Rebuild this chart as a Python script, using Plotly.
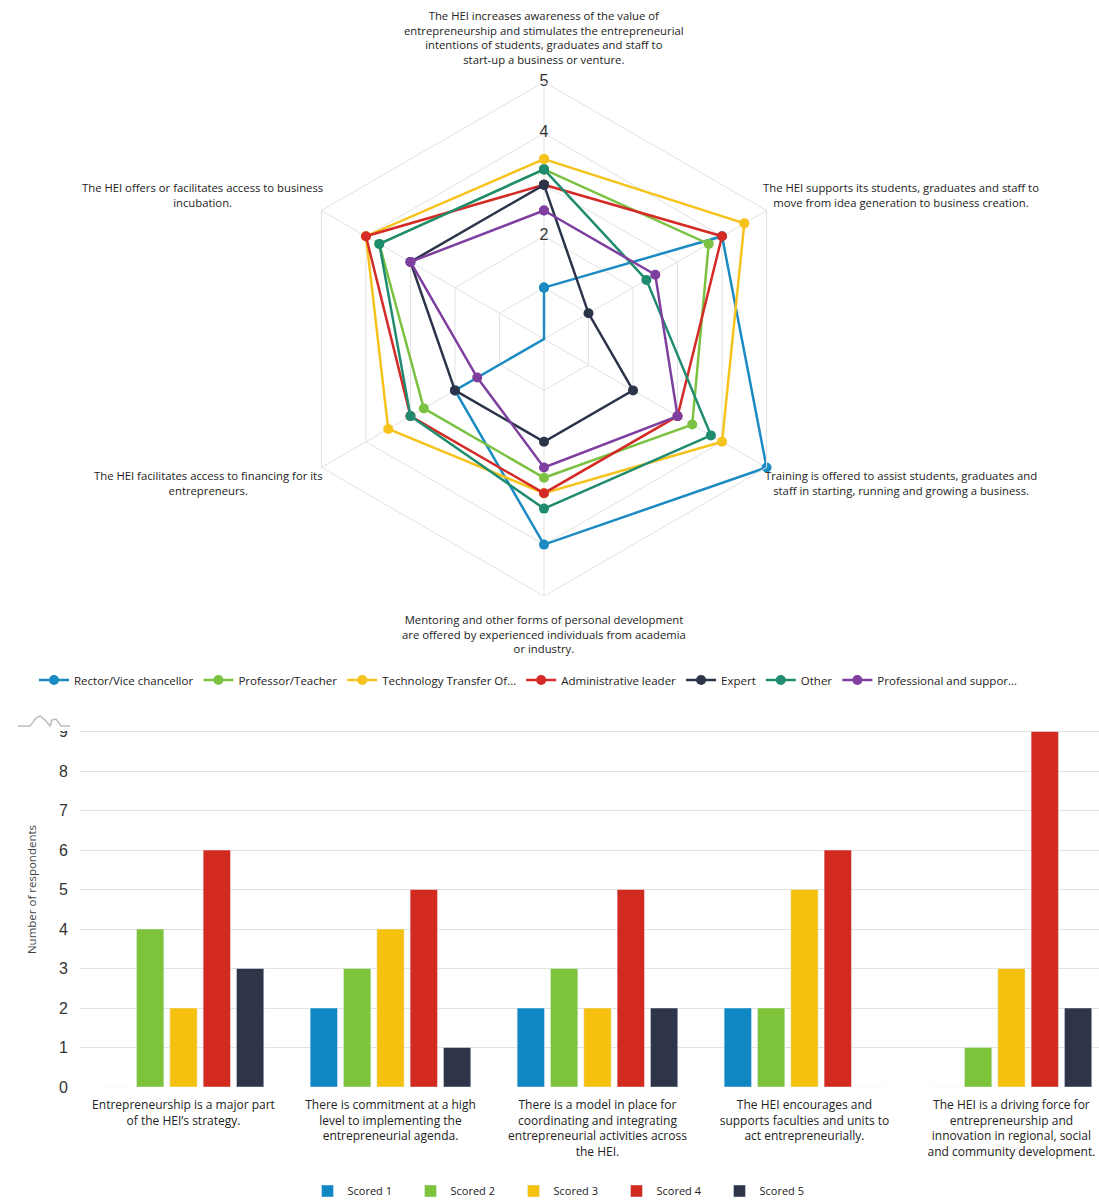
import plotly.graph_objects as go

# ---------------- Radar: self-assessment by respondent group ----------------
radar_axes = [
    "The HEI increases awareness of the value of<br>entrepreneurship and stimulates the entrepreneurial<br>intentions of students, graduates and staff to<br>start-up a business or venture.",
    "The HEI supports its students, graduates and staff to<br>move from idea generation to business creation.",
    "Training is offered to assist students, graduates and<br>staff in starting, running and growing a business.",
    "Mentoring and other forms of personal development<br>are offered by experienced individuals from academia<br>or industry.",
    "The HEI facilitates access to financing for its<br>entrepreneurs.",
    "The HEI offers or facilitates access to business<br>incubation.",
]

group_names = [
    "Rector/Vice chancellor",
    "Professor/Teacher",
    "Technology Transfer Of…",
    "Administrative leader",
    "Expert",
    "Other",
    "Professional and suppor…",
]
rector = [1, 4, 5, 4, 2, 0]
professor = [3.3, 3.7, 3.33, 2.7, 2.7, 3.7]
tech_transfer = [3.5, 4.5, 4, 3, 3.5, 4]
admin_leader = [3, 4, 3, 3, 3, 4]
expert = [3, 1, 2, 2, 2, 3]
other = [3.3, 2.3, 3.75, 3.3, 3, 3.7]
professional = [2.5, 2.5, 3, 2.5, 1.5, 3]
group_values = [rector, professor, tech_transfer, admin_leader, expert, other, professional]
group_colors = ["#1b8bc2", "#7cc242", "#f6c21c", "#d42b27", "#2c3449", "#1f8b6f", "#7f3f9f"]

radial_ticks = [1, 2, 3, 4, 5]
radial_labels = [2, 4, 5]   # the scale values printed on the first spoke

# ---------------- Bars: strategy and governance scores ----------------
bar_categories = [
    "Entrepreneurship is a major part<br>of the HEI’s strategy.",
    "There is commitment at a high<br>level to implementing the<br>entrepreneurial agenda.",
    "There is a model in place for<br>coordinating and integrating<br>entrepreneurial activities across<br>the HEI.",
    "The HEI encourages and<br>supports faculties and units to<br>act entrepreneurially.",
    "The HEI is a driving force for<br>entrepreneurship and<br>innovation in regional, social<br>and community development.",
]
score_names = ["Scored 1", "Scored 2", "Scored 3", "Scored 4", "Scored 5"]
scored_1 = [0, 2, 2, 2, 0]
scored_2 = [4, 3, 3, 2, 1]
scored_3 = [2, 4, 2, 5, 3]
scored_4 = [6, 5, 5, 6, 9]
scored_5 = [3, 1, 2, 0, 2]
score_values = [scored_1, scored_2, scored_3, scored_4, scored_5]
score_colors = ["#0f87c3", "#7dc43a", "#f6c10e", "#d32a1f", "#2e3548"]

W, H = 1099, 1202
LABEL_FONT = "'Open Sans', Lato, sans-serif"
NUM_FONT = "'Liberation Sans', Arial, sans-serif"


def px_x(x):
    return x / W


def px_y(y):
    return 1 - y / H


fig = go.Figure()

# radial scale numbers along the first spoke (drawn first so lines pass over them)
fig.add_trace(go.Scatterpolar(
    r=radial_labels,
    theta=[radar_axes[0]] * len(radial_labels),
    mode="text",
    text=[str(v) for v in radial_labels],
    textfont=dict(family=NUM_FONT, size=16, color="#333333"),
    showlegend=False,
    hoverinfo="skip",
))

for name, vals, col in zip(group_names, group_values, group_colors):
    fig.add_trace(go.Scatterpolar(
        r=vals + vals[:1],
        theta=radar_axes + radar_axes[:1],
        mode="lines+markers",
        name=name,
        line=dict(color=col, width=2.5),
        marker=dict(color=col, size=10),
        legend="legend",
    ))

for name, vals, col in zip(score_names, score_values, score_colors):
    fig.add_trace(go.Bar(
        x=bar_categories,
        y=vals,
        name=name,
        marker=dict(color=col),
        xaxis="x",
        yaxis="y",
        legend="legend2",
    ))

# polar area: centre (544, 339) px, outer radius 257 px
cx, cy, R = 544, 339, 257
fig.update_layout(
    width=W,
    height=H,
    margin=dict(l=0, r=0, t=0, b=0, autoexpand=False),
    paper_bgcolor="white",
    plot_bgcolor="white",
    font=dict(family=LABEL_FONT, color="#222222"),
    polar=dict(
        domain=dict(x=[px_x(cx - R), px_x(cx + R)], y=[px_y(cy + R), px_y(cy - R)]),
        gridshape="linear",
        bgcolor="white",
        radialaxis=dict(
            range=[0, 5],
            tickvals=radial_ticks,
            showticklabels=False,
            ticks="",
            showline=False,
            gridcolor="#e2e2e2",
            gridwidth=1,
        ),
        angularaxis=dict(
            rotation=90,
            direction="clockwise",
            showticklabels=False,
            ticks="",
            gridcolor="#e2e2e2",
            linecolor="#e2e2e2",
            linewidth=1,
        ),
    ),
    xaxis=dict(
        domain=[px_x(80), 1],
        anchor="y",
        range=[-0.5, 4.423],
        showgrid=False,
        showline=False,
        ticks="",
        ticklabelstandoff=9,
        tickfont=dict(family=LABEL_FONT, size=12, color="#222222"),
    ),
    yaxis=dict(
        domain=[px_y(1087), px_y(692)],
        anchor="x",
        range=[0, 10],
        dtick=1,
        gridcolor="#e2e2e2",
        zeroline=False,
        ticks="",
        ticklabelstandoff=11,
        tickfont=dict(family=NUM_FONT, size=16, color="#333333"),
        title=dict(text="Number of respondents", standoff=11,
                   font=dict(family=LABEL_FONT, size=11.5, color="#444444")),
    ),
    barmode="group",
    bargap=0.195,
    bargroupgap=0.18,
    legend=dict(
        orientation="h",
        x=px_x(34), xanchor="left",
        y=px_y(680), yanchor="middle",
        font=dict(family=LABEL_FONT, size=11.5, color="#222222"),
        bgcolor="rgba(0,0,0,0)",
    ),
    legend2=dict(
        orientation="h",
        x=px_x(565), xanchor="center",
        y=px_y(1191), yanchor="middle",
        font=dict(family=LABEL_FONT, size=11, color="#222222"),
        bgcolor="rgba(0,0,0,0)",
        entrywidth=58,
    ),
)

# axis labels around the radar
label_pos = [(544, 37.5), (901, 195.5), (901, 483), (544, 634), (208, 483), (203, 195.5)]
for text, (x, y) in zip(radar_axes, label_pos):
    fig.add_annotation(
        text=text, x=px_x(x), y=px_y(y), xref="paper", yref="paper",
        xanchor="center", yanchor="middle", align="center", showarrow=False,
        font=dict(family=LABEL_FONT, size=11.3, color="#222222"),
    )

# white band separating the two panels (it hides the upper part of the bar axis)
fig.add_shape(type="rect", xref="paper", yref="paper", layer="above",
              x0=0, x1=px_x(1078), y0=px_y(731), y1=px_y(686),
              fillcolor="white", line=dict(width=0))

# small chart-type glyph above the bar panel
glyph = [(18, 726), (30, 726), (36, 718), (40, 716), (45, 720), (50, 726), (52, 720),
         (56, 719), (61, 726), (70, 726)]
path = "M " + " L ".join(f"{px_x(x):.5f},{px_y(y):.5f}" for x, y in glyph)
fig.add_shape(type="path", xref="paper", yref="paper", layer="above", path=path,
              line=dict(color="#bdbdbd", width=1.5))

fig.write_html("out.html")
